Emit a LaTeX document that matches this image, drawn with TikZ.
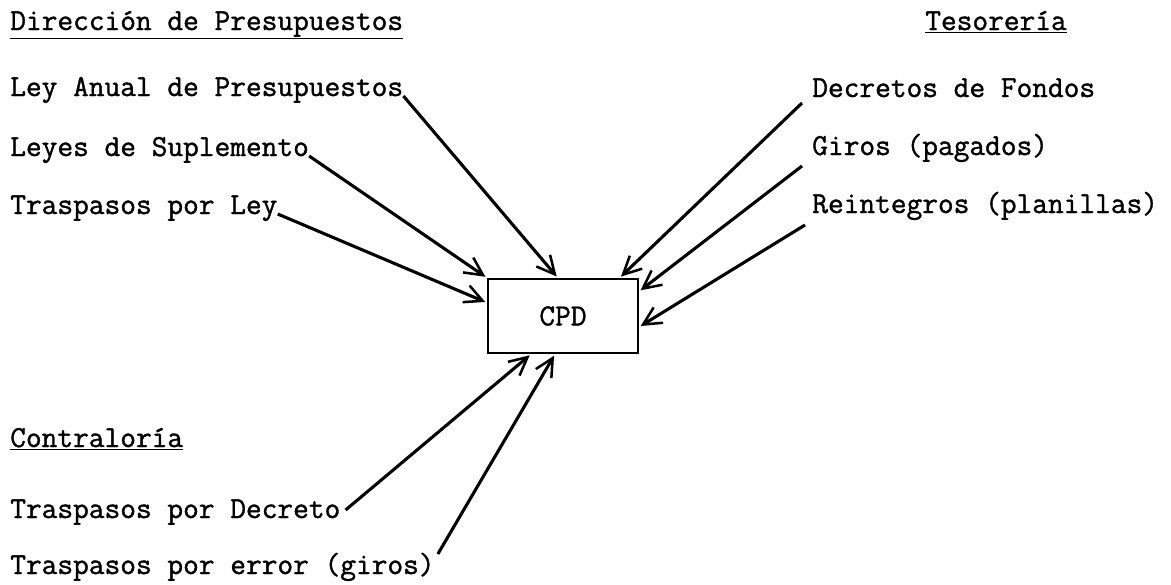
\documentclass[tikz,border=0pt]{standalone}
\usepackage{fontspec}
\usepackage{tikz}
\usetikzlibrary{arrows.meta}
\newfontfamily\typew{Latin Modern Mono}[FakeBold=1.2]

\begin{document}
\begin{tikzpicture}[x=0.025cm, y=-0.025cm,
  lbl/.style={anchor=base west, inner sep=0pt, font=\typew\fontsize{21.7}{26}\selectfont},
  hdr/.style={lbl},
  cpdbox/.style={draw, line width=2pt, minimum width=3.75cm, minimum height=1.85cm, inner sep=0pt, font=\typew\fontsize{21.7}{26}\selectfont},
  arr/.style={-{Straight Barb[length=4.5mm, width=4.5mm, line width=1.8pt]}, line width=2.2pt, shorten >=1pt}
]
\useasboundingbox (0,0) rectangle (1171,585);
% Dirección de Presupuestos
\node[hdr] (dp) at (10,30) {\underline{Dirección de Presupuestos}};
\node[lbl] (ley) at (10,96) {Ley Anual de Presupuestos};
\node[lbl] (sup) at (10,156) {Leyes de Suplemento};
\node[lbl] (tley) at (10,214) {Traspasos por Ley};
% Tesorería
\node[hdr] (tes) at (925,30) {\underline{Tesorería}};
\node[lbl] (dec) at (812,97) {Decretos de Fondos};
\node[lbl] (gir) at (812,155) {Giros (pagados)};
\node[lbl] (rei) at (812,213) {Reintegros (planillas)};
% Contraloría
\node[hdr] (con) at (10,447) {\underline{Contraloría}};
\node[lbl] (tdec) at (10,518) {Traspasos por Decreto};
\node[lbl] (terr) at (10,574) {Traspasos por error (giros)};
% centro
\node[cpdbox] (cpd) at (563,316) {CPD};
\draw[arr] (ley.base east) -- (cpd.98);
\draw[arr] (sup.base east) -- (cpd.north west);
\draw[arr] (tley.base east) -- (cpd.170);
\draw[arr] ([shift={(-10,6)}]dec.base west) -- (cpd.34);
\draw[arr] ([shift={(-10,11)}]gir.base west) -- (cpd.18);
\draw[arr] ([shift={(-7,12)}]rei.base west) -- (cpd.352);
\draw[arr] ([shift={(5,-8)}]tdec.base east) -- (cpd.230);
\draw[arr] ([shift={(3,-20)}]terr.base east) -- (cpd.258);
\end{tikzpicture}
\end{document}
